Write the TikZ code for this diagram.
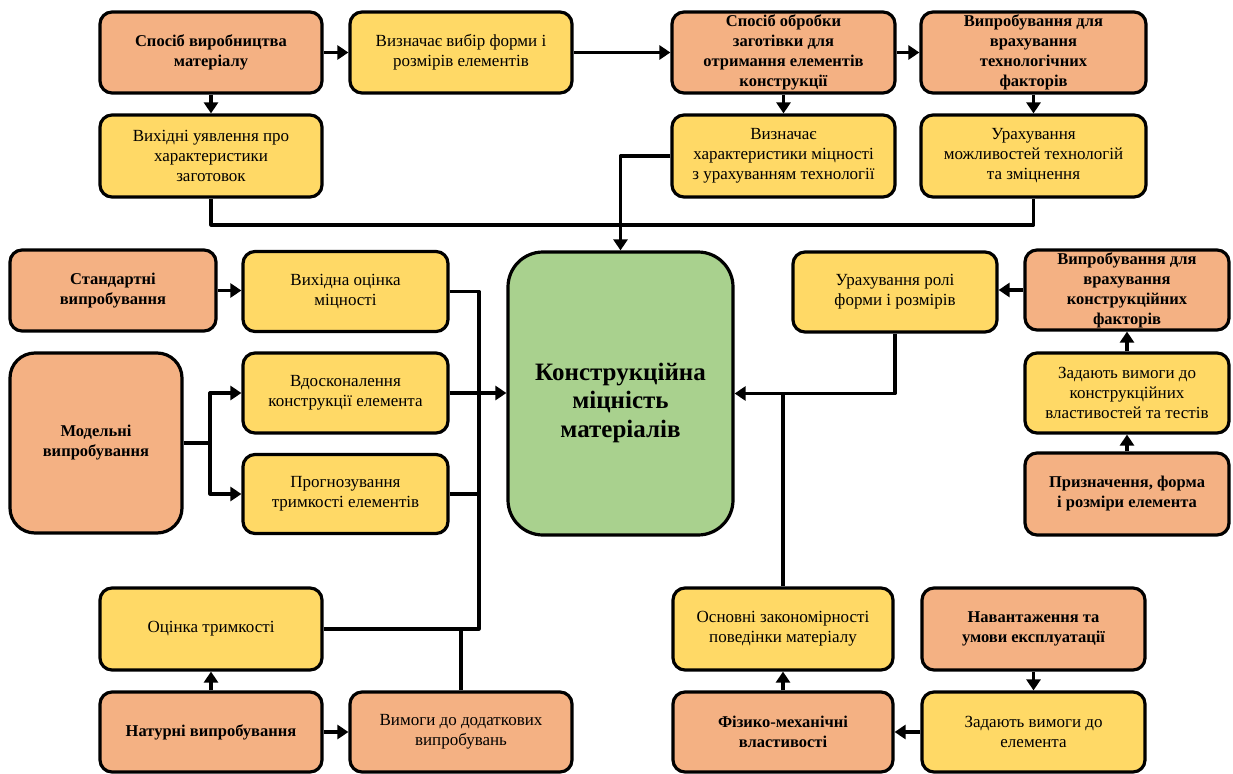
\documentclass[tikz,border=0pt]{standalone}
\usepackage{fontspec}
\setmainfont{Liberation Serif}
\usetikzlibrary{arrows.meta}
\definecolor{orng}{HTML}{F4B183}
\definecolor{ylw}{HTML}{FFD966}
\definecolor{grn}{HTML}{A9D18E}
\begin{document}
\begin{tikzpicture}[x=1pt, y=-1pt, >={Triangle[length=11pt,width=14pt]}, line join=round,
	box/.style={draw, line width=3.2pt, rounded corners=12pt, align=center, inner sep=0pt,
		minimum height=81pt, font=\fontsize{17}{20}\selectfont},
	ylbox/.style={box, fill=ylw},
	orbox/.style={box, fill=orng, font=\bfseries\fontsize{16.5}{20}\selectfont},
	conn/.style={line width=3.2pt},
	arr/.style={conn, ->}]
	\useasboundingbox (0,0) rectangle (1233,773);
	% top rows
	\node[orbox, minimum width=222pt] (prod) at (211,52.5) {Спосіб виробництва\\матеріалу};
	\node[ylbox, minimum width=222pt] (vyb) at (461,52.5) {Визначає вибір форми і\\розмірів елементів};
	\node[orbox, minimum width=223pt] (obr) at (783.5,52.5) {Спосіб обробки\\заготівки для\\отримання елементів\\конструкції};
	\node[orbox, minimum width=225pt] (tech) at (1033.5,52.5) {Випробування для\\врахування\\технологічних\\факторів};
	\node[ylbox, minimum width=222pt, minimum height=82pt] (uyav) at (211,156) {Вихідні уявлення про\\характеристики\\заготовок};
	\node[ylbox, minimum width=223pt, minimum height=82pt] (mitsn) at (783.5,156) {Визначає\\характеристики міцності\\з урахуванням технології};
	\node[ylbox, minimum width=225pt, minimum height=82pt] (mozh) at (1033.5,156) {Урахування\\можливостей технологій\\та зміцнення};
	% left column
	\node[orbox, minimum width=206pt] (stand) at (113,290.5) {Стандартні\\випробування};
	\node[ylbox, minimum width=205pt, minimum height=80pt] (vykh) at (345.5,291.5) {Вихідна оцінка\\міцності};
	\node[orbox, minimum width=172pt, minimum height=180pt, rounded corners=25pt] (model) at (96,443) {Модельні\\випробування};
	\node[ylbox, minimum width=205pt, minimum height=80pt] (vdos) at (345.5,393) {Вдосконалення\\конструкції елемента};
	\node[ylbox, minimum width=205pt, minimum height=79pt] (prog) at (345.5,494) {Прогнозування\\тримкості елементів};
	% centre
	\node[box, fill=grn, minimum width=225pt, minimum height=283pt, rounded corners=35pt,
		font=\bfseries\fontsize{25}{28.5}\selectfont] (main) at (620.5,393.5) {\rule{0pt}{36pt}Конструкційна\\міцність\\матеріалів};
	% right column
	\node[ylbox, minimum width=204pt, minimum height=80pt] (rol) at (895,292) {Урахування ролі\\форми і розмірів};
	\node[orbox, minimum width=204pt, minimum height=80pt] (konstr) at (1127,290) {Випробування для\\врахування\\конструкційних\\факторів};
	\node[ylbox, minimum width=204pt, minimum height=80pt] (zad1) at (1127,393) {Задають вимоги до\\конструкційних\\властивостей та тестів};
	\node[orbox, minimum width=204pt, minimum height=82pt] (pryzn) at (1127,494) {Призначення, форма\\і розміри елемента};
	% bottom rows
	\node[ylbox, minimum width=222pt, minimum height=82pt] (otsin) at (211,629) {Оцінка тримкості};
	\node[orbox, minimum width=222pt, minimum height=80pt] (natur) at (211,732) {Натурні випробування};
	\node[box, fill=orng, minimum width=222pt, minimum height=80pt] (vymog) at (461,732) {Вимоги до додаткових\\випробувань};
	\node[ylbox, minimum width=220pt, minimum height=82pt] (osn) at (783,629) {Основні закономірності\\поведінки матеріалу};
	\node[orbox, minimum width=223pt, minimum height=82pt] (navan) at (1033.5,629) {Навантаження та\\умови експлуатації};
	\node[orbox, minimum width=220pt, minimum height=80pt] (fiz) at (783,732) {Фізико-механічні\\властивості};
	\node[ylbox, minimum width=223pt, minimum height=80pt] (zad2) at (1033.5,732) {Задають вимоги до\\елемента};
	\coordinate (jtop) at (620,225);
	\coordinate (jl) at (479,629);
	\coordinate (mfork) at (210,443);
	% connectors
	\draw[arr] (prod) -- (vyb);
	\draw[arr] (vyb) -- (obr);
	\draw[arr] (obr) -- (tech);
	\draw[arr] (prod) -- (uyav);
	\draw[arr] (obr) -- (mitsn);
	\draw[arr] (tech) -- (mozh);
	\draw[conn] (uyav.south) |- (jtop) -| (mozh.south);
	\draw[arr] (mitsn.west) -| (main.north);
	\draw[arr] (stand) -- (stand -| vykh.west);
	\draw[conn] (vykh.east) -| (jl) -- (otsin.east);
	\draw[conn] (prog.east) -- (prog.east -| jl);
	\draw[arr] (vdos.east) -- (vdos.east -| main.west);
	\draw[conn] (model.east) -- (mfork);
	\draw[arr] (mfork) |- (vdos.west);
	\draw[arr] (mfork) |- (prog.west);
	\draw[conn] (vymog.north) -- (vymog.north |- jl);
	\draw[arr] (natur) -- (otsin);
	\draw[arr] (natur) -- (vymog);
	\draw[arr] (konstr.west) -- (konstr.west -| rol.east);
	\draw[arr] (zad1) -- (konstr);
	\draw[arr] (pryzn) -- (zad1);
	\draw[arr] (rol.south) |- (main.east);
	\draw[conn] (osn.north) -- (osn.north |- main.east);
	\draw[arr] (fiz) -- (osn);
	\draw[arr] (navan) -- (zad2);
	\draw[arr] (zad2) -- (fiz);
\end{tikzpicture}
\end{document}
